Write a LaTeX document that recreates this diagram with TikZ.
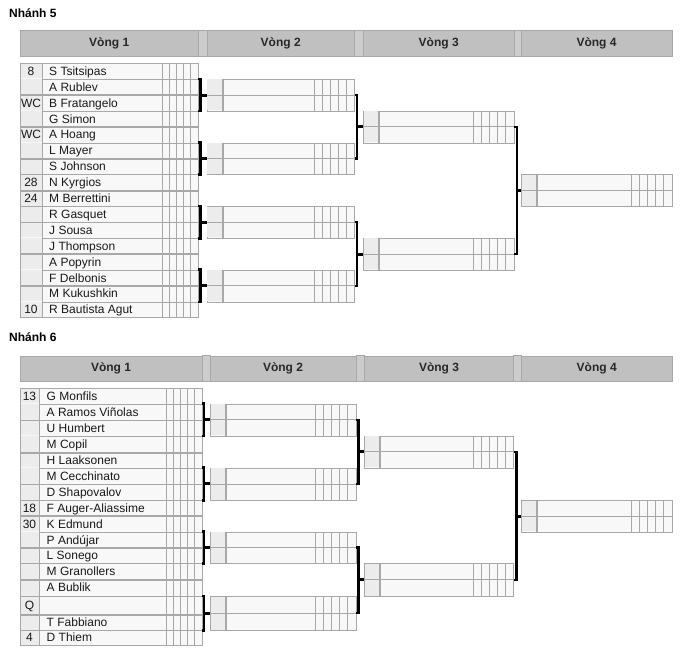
\documentclass[tikz,border=0pt]{standalone}
\usepackage{fontspec}
\setmainfont{Liberation Sans}
\usetikzlibrary{positioning}
\definecolor{HeadGray}{RGB}{192,192,192}
\definecolor{SpacerGray}{RGB}{204,204,204}
\definecolor{LineGray}{RGB}{168,168,168}
\definecolor{SeedGray}{RGB}{236,236,236}
\definecolor{CellWhite}{RGB}{248,248,248}
\definecolor{HeadText}{RGB}{40,40,40}

\tikzset{
  header/.style={draw=LineGray, fill=HeadGray, text=HeadText, anchor=north west,
    inner sep=0pt, minimum height=26, font=\bfseries\fontsize{12}{14}\selectfont},
  spacer/.style={draw=LineGray, fill=SpacerGray},
  rowbox/.style={draw=LineGray, fill=CellWhite, anchor=north west, inner sep=0pt},
  matchbox/.style={draw=LineGray, fill=CellWhite, anchor=north west, inner sep=0pt},
  cellline/.style={LineGray, line width=0.9pt},
  pairline/.style={LineGray, line width=1.8pt},
  seedsep/.style={LineGray, line width=2pt},
  bracketline/.style={black, line width=2.5pt},
  midtick/.style={black, line width=3pt},
  player/.style={anchor=base west, inner sep=0pt, text=black!90, font=\fontsize{12}{14}\selectfont},
  seedtext/.style={anchor=base, inner sep=0pt, text=black!90, font=\fontsize{12}{14}\selectfont},
  branchtitle/.style={anchor=base west, inner sep=0pt, font=\bfseries\fontsize{12}{14}\selectfont}
}

% one match of rounds 2-4: name, x left, x right, y top, y bottom
\newcommand{\matchbox}[5]{%
  \pgfmathsetmacro\mw{#3-#2}%
  \pgfmathsetmacro\mh{#5-#4}%
  \node[matchbox, minimum width=\mw, minimum height=\mh] (#1) at (#2,#4) {};
  \fill[SeedGray] (#2+0.5,#4+0.5) rectangle (#2+16,#5-0.5);
  \foreach \k in {1,...,5} \draw[cellline] (#3-8*\k,#4) -- (#3-8*\k,#5);
  \draw[cellline] (#1.west) -- (#1.east);
  \draw[seedsep] (#2+16,#4) -- (#2+16,#5);
}

\begin{document}
\begin{tikzpicture}[x=1pt,y=-1pt]
  \useasboundingbox (0,0) rectangle (688,657);

  %%%%% Nhanh 5
  \node[branchtitle] (n5) at (9,17.5) {Nhánh 5};

  % Headers
  \node[header, minimum width=178] (h5a) at (20,30) {Vòng 1};
  \draw[spacer] (198,30) rectangle (206.7,56);
  \node[header, minimum width=147.6] (h5b) at (206.7,30) {Vòng 2};
  \draw[spacer] (354.3,30) rectangle (363.3,56);
  \node[header, minimum width=150.4] (h5c) at (363.3,30) {Vòng 3};
  \draw[spacer] (513.7,30) rectangle (521,56);
  \node[header, minimum width=150.7] (h5d) at (521,30) {Vòng 4};

  % Round 1
  \foreach \s/\n [count=\i] in {8/S Tsitsipas, /A Rublev, WC/B Fratangelo, /G Simon,
      WC/A Hoang, /L Mayer, /S Johnson, 28/N Kyrgios, 24/M Berrettini, /R Gasquet,
      /J Sousa, /J Thompson, /A Popyrin, /F Delbonis, /M Kukushkin, 10/R Bautista Agut} {
    \pgfmathsetmacro\ya{63+(\i-1)*15.9}
    \node[rowbox, minimum width=178, minimum height=15.9] (t5p\i) at (20,\ya) {};
    \fill[SeedGray] (20.5,\ya+0.5) rectangle (42,\ya+15.4);
    \draw[cellline] (42,\ya) -- (42,\ya+15.9);
    \foreach \x in {162.5,169.5,176.5,183.5,190.5} \draw[cellline] (\x,\ya) -- (\x,\ya+15.9);
    \node[seedtext] at (31,\ya+12.3) {\s};
    \node[player] at (49,\ya+12.3) {\n};
  }
  \foreach \i in {2,4,...,14} \draw[pairline] (t5p\i.south west) -- (t5p\i.south east);

  % Rounds 2-4
  \matchbox{b5r2a}{206.7}{354.3}{78.9}{110.7}
  \matchbox{b5r2b}{206.7}{354.3}{142.5}{174.3}
  \matchbox{b5r2c}{206.7}{354.3}{206.1}{237.9}
  \matchbox{b5r2d}{206.7}{354.3}{269.7}{301.5}
  \matchbox{b5r3a}{363.3}{513.7}{110.7}{142.5}
  \matchbox{b5r3b}{363.3}{513.7}{237.9}{269.7}
  \matchbox{b5r4}{521}{671.7}{174.3}{206.1}

  % Brackets
  \foreach \a/\b/\m [count=\j] in {2/3/b5r2a, 6/7/b5r2b, 10/11/b5r2c, 14/15/b5r2d} {
    \draw[bracketline] (t5p\a.north east) -- ++(2,0) coordinate (j5\j) |- (t5p\b.south east);
    \draw[midtick] (\m.west) -- (\m.west -| j5\j);
  }
  \draw[bracketline] (b5r2a.east) -- ++(2.5,0) coordinate (k5a) |- (b5r2b.east);
  \draw[midtick] (b5r3a.west) -- (b5r3a.west -| k5a);
  \draw[bracketline] (b5r2c.east) -- ++(2.5,0) coordinate (k5b) |- (b5r2d.east);
  \draw[midtick] (b5r3b.west) -- (b5r3b.west -| k5b);
  \draw[bracketline] (b5r3a.east) -- ++(3,0) coordinate (m5) |- (b5r3b.east);
  \draw[midtick] (b5r4.west) -- (b5r4.west -| m5);

  %%%%% Nhanh 6
  \node[branchtitle] (n6) at (9,341) {Nhánh 6};

  % Headers
  \node[header, minimum width=181.7, minimum height=25.2] (h6a) at (20,355.5) {Vòng 1};
  \draw[spacer] (201.7,355.5) rectangle (210,380.7);
  \node[header, minimum width=145.7, minimum height=25.2] (h6b) at (210,355.5) {Vòng 2};
  \draw[spacer] (355.7,355.5) rectangle (364.3,380.7);
  \node[header, minimum width=149, minimum height=25.2] (h6c) at (364.3,355.5) {Vòng 3};
  \draw[spacer] (513.3,355.5) rectangle (521.3,380.7);
  \node[header, minimum width=150.4, minimum height=25.2] (h6d) at (521.3,355.5) {Vòng 4};

  % Round 1
  \foreach \s/\n/\ya/\yb [count=\i] in {13/G Monfils/388.3/403.5, /A Ramos Viñolas/403.5/420,
      /U Humbert/420/435.7, /M Copil/435.7/452.2, /H Laaksonen/452.2/467.5,
      /M Cecchinato/467.5/484, /D Shapovalov/484/500, 18/F Auger-Aliassime/500/515.7,
      30/K Edmund/515.7/531.7, /P Andújar/531.7/547.7, /L Sonego/547.7/563.3,
      /M Granollers/563.3/579.3, /A Bublik/579.3/596, Q//596/614.3,
      /T Fabbiano/614.3/630, 4/D Thiem/630/645} {
    \pgfmathsetmacro\h{\yb-\ya}
    \node[rowbox, minimum width=181.7, minimum height=\h] (t6p\i) at (20,\ya) {};
    \fill[SeedGray] (20.5,\ya+0.5) rectangle (39,\yb-0.5);
    \draw[cellline] (39,\ya) -- (39,\yb);
    \foreach \x in {166,173.1,180.3,187.4,194.6} \draw[cellline] (\x,\ya) -- (\x,\yb);
    \node[seedtext] at (29.5,\ya/2+\yb/2+4.3) {\s};
    \node[player] at (46.5,\ya/2+\yb/2+4.3) {\n};
  }
  \foreach \i in {2,4,...,14} \draw[pairline] (t6p\i.south west) -- (t6p\i.south east);

  % Rounds 2-4
  \matchbox{b6r2a}{210}{355.7}{403.5}{435.7}
  \matchbox{b6r2b}{210}{355.7}{467.5}{500}
  \matchbox{b6r2c}{210}{355.7}{531.7}{563.3}
  \matchbox{b6r2d}{210}{355.7}{596}{630}
  \matchbox{b6r3a}{364.3}{513.3}{435.7}{467.5}
  \matchbox{b6r3b}{364.3}{513.3}{563.3}{596}
  \matchbox{b6r4}{521.3}{671.7}{500}{531.7}

  % Brackets
  \foreach \a/\b/\m [count=\j] in {2/3/b6r2a, 6/7/b6r2b, 10/11/b6r2c, 14/15/b6r2d} {
    \draw[bracketline] (t6p\a.north east) -- ++(2,0) coordinate (j6\j) |- (t6p\b.south east);
    \draw[midtick] (\m.west) -- (\m.west -| j6\j);
  }
  \draw[bracketline] (b6r2a.east) -- ++(2.5,0) coordinate (k6a) |- (b6r2b.east);
  \draw[midtick] (b6r3a.west) -- (b6r3a.west -| k6a);
  \draw[bracketline] (b6r2c.east) -- ++(2.5,0) coordinate (k6b) |- (b6r2d.east);
  \draw[midtick] (b6r3b.west) -- (b6r3b.west -| k6b);
  \draw[bracketline] (b6r3a.east) -- ++(3,0) coordinate (m6) |- (b6r3b.east);
  \draw[midtick] (b6r4.west) -- (b6r4.west -| m6);
\end{tikzpicture}
\end{document}
